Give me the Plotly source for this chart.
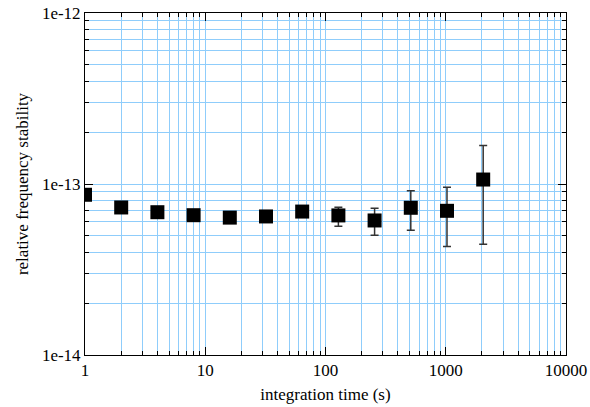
import plotly.graph_objects as go

tau = [1, 2, 4, 8, 16, 32, 64, 128, 256, 512, 1024, 2048]
adev = [8.65e-14, 7.29e-14, 6.84e-14, 6.57e-14, 6.36e-14, 6.46e-14, 6.90e-14,
        6.55e-14, 6.12e-14, 7.26e-14, 6.97e-14, 1.062e-13]
err_plus = [0.3e-14, 0.3e-14, 0.3e-14, 0.3e-14, 0.3e-14, 0.3e-14, 0.4e-14,
            0.77e-14, 1.10e-14, 1.86e-14, 2.61e-14, 6.18e-14]
err_minus = [0.3e-14, 0.3e-14, 0.3e-14, 0.3e-14, 0.3e-14, 0.3e-14, 0.4e-14,
             0.89e-14, 1.10e-14, 1.89e-14, 2.66e-14, 6.17e-14]

x_ticks = [1, 10, 100, 1000, 10000]
x_ticklabels = ["1", "10", "100", "1000", "10000"]
y_ticks = [1e-14, 1e-13, 1e-12]
y_ticklabels = ["1e-14", "1e-13", "1e-12"]

x_minor = [m * 10 ** d for d in range(0, 4) for m in range(1, 10)] + [10000]
y_minor = [m * 10.0 ** d for d in (-14, -13) for m in range(1, 10)] + [1e-12]

grid_color = "#8fcdfb"
font = dict(family="Liberation Serif, Times New Roman, serif", size=17, color="black")

fig = go.Figure()
fig.add_trace(go.Scatter(
    x=tau, y=adev, mode="markers",
    marker=dict(symbol="square", size=14, color="black"),
    error_y=dict(type="data", symmetric=False, array=err_plus, arrayminus=err_minus,
                 color="#333333", thickness=1.5, width=4),
    showlegend=False,
))

axis_common = dict(
    type="log", showline=True, linecolor="black", linewidth=1, mirror="ticks",
    ticks="inside", ticklen=8, tickcolor="black", tickwidth=1,
    showgrid=True, gridcolor=grid_color, gridwidth=1, zeroline=False,
    tickfont=font, automargin=False,
)

fig.update_xaxes(
    **axis_common,
    range=[0, 4], tickmode="array", tickvals=x_ticks, ticktext=x_ticklabels,
    minor=dict(tickmode="array", tickvals=x_minor, ticks="inside", ticklen=4,
               tickcolor="black", showgrid=True, gridcolor=grid_color, gridwidth=1),
    title=dict(text="integration time (s)", font=font, standoff=8),
)
fig.update_yaxes(
    **axis_common,
    range=[-14, -12], tickmode="array", tickvals=y_ticks, ticktext=y_ticklabels,
    minor=dict(tickmode="array", tickvals=y_minor, ticks="inside", ticklen=4,
               tickcolor="black", showgrid=True, gridcolor=grid_color, gridwidth=1),
    title=dict(text="relative frequency stability", font=font, standoff=8),
)

fig.update_layout(
    width=590, height=407,
    margin=dict(l=85, r=24, t=13, b=52),
    plot_bgcolor="white", paper_bgcolor="white",
    font=font,
)

fig.write_html(
    "out.html",
    config={"displayModeBar": False},
    post_script="document.body.style.margin='0';document.body.style.overflow='hidden';",
)
